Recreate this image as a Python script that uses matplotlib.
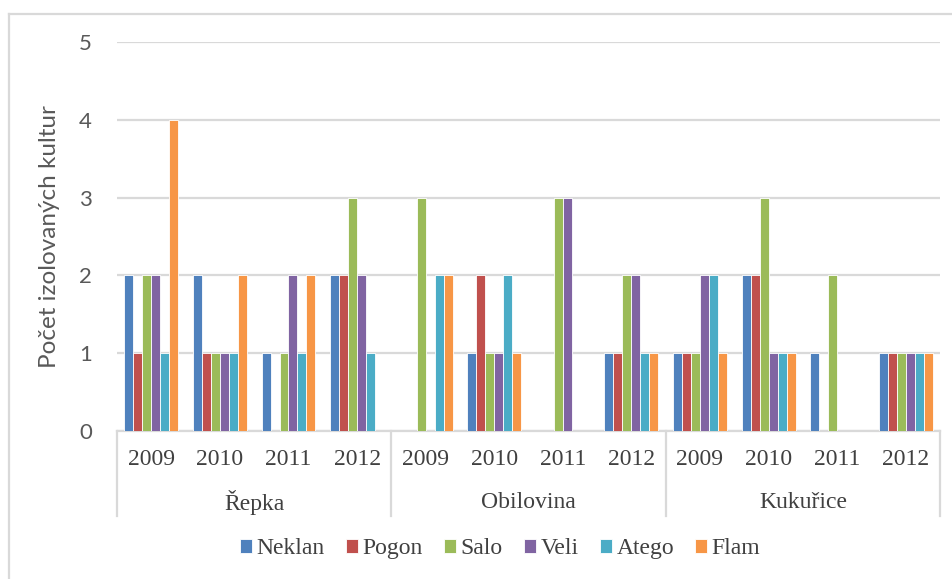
import numpy as np
import matplotlib.pyplot as plt
from matplotlib.lines import Line2D

groups = ['Řepka', 'Obilovina', 'Kukuřice']
years = ['2009', '2010', '2011', '2012']
series = ['Neklan', 'Pogon', 'Salo', 'Veli', 'Atego', 'Flam']
colors = ['#4F81BD', '#C0504D', '#9BBB59', '#8064A2', '#4BACC6', '#F79646']

# values per series, ordered Řepka 2009-2012, Obilovina 2009-2012, Kukuřice 2009-2012
neklan = [2, 2, 1, 2, 0, 1, 0, 1, 1, 2, 1, 1]
pogon = [1, 1, 0, 2, 0, 2, 0, 1, 1, 2, 0, 1]
salo = [2, 1, 1, 3, 3, 1, 3, 2, 1, 3, 2, 1]
veli = [2, 1, 2, 2, 0, 1, 3, 2, 2, 1, 0, 1]
atego = [1, 1, 1, 1, 2, 2, 0, 1, 2, 1, 0, 1]
flam = [4, 2, 2, 0, 2, 1, 0, 1, 1, 1, 0, 1]
values = [neklan, pogon, salo, veli, atego, flam]

fig = plt.figure(figsize=(9.53, 5.79), dpi=100)
ax = fig.add_axes([0.1228, 0.2556, 0.8636, 0.6719])

n = len(neklan)
x = np.arange(n)
step = 0.131
for k, (name, vals, c) in enumerate(zip(series, values, colors)):
    ax.bar(x + (k - 2.5) * step, vals, step, color=c, edgecolor='white',
           linewidth=0.6, label=name, zorder=3)

ax.set_xlim(-0.5, n - 0.5)
ax.set_ylim(0, 5)
ax.set_yticks(range(6))
ax.yaxis.grid(True, color='#d9d9d9', linewidth=1.6, zorder=0)
ax.tick_params(axis='y', length=0, pad=18, labelsize=16, labelcolor='#595959')
for lab in ax.get_yticklabels():
    lab.set_family('Lato')
ax.set_xticks([])
for s in ['left', 'right', 'top']:
    ax.spines[s].set_visible(False)
ax.spines['bottom'].set_color('#d9d9d9')
ax.spines['bottom'].set_linewidth(1.6)

ax.set_ylabel('Počet izolovaných kultur', family='Lato', fontsize=17.5, color='#595959')
ax.yaxis.set_label_coords(-0.069, 0.5)

# category axis: year labels, group labels, separators
trans = ax.get_xaxis_transform()
for i in range(n):
    ax.text(i, -0.072, years[i % 4], transform=trans, ha='center', va='center',
            family='Liberation Serif', fontsize=17, color='#404040')
for g, name in enumerate(groups):
    ax.text(g * 4 + 1.5, -0.185, name, transform=trans, ha='center', va='center',
            family='Liberation Serif', fontsize=17, color='#404040')
for b in [-0.5, 3.5, 7.5, 11.5]:
    ax.plot([b, b], [0, -0.2185], transform=trans, color='#d9d9d9',
            linewidth=1.6, clip_on=False)

# chart border
fig.add_artist(Line2D([0.0094, 0.0094], [0, 0.9758], color='#d9d9d9', linewidth=1.6))
fig.add_artist(Line2D([0.0094, 1], [0.9758, 0.9758], color='#d9d9d9', linewidth=1.6))

fig.legend(loc='center', bbox_to_anchor=(0.525, 0.052), ncol=6, frameon=False,
           prop={'family': 'Liberation Serif', 'size': 17}, handlelength=0.5,
           handleheight=0.5, handletextpad=0.2, columnspacing=0.9, labelcolor='#404040')

fig.savefig('out.png', dpi=100)
